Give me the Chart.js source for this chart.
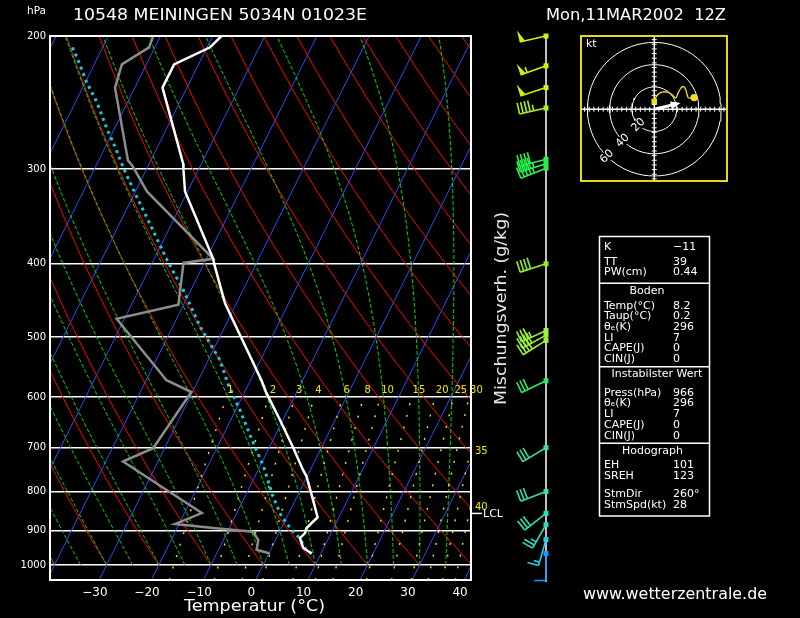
<!DOCTYPE html>
<html>
<head>
<meta charset="utf-8">
<script src="https://cdn.jsdelivr.net/npm/chart.js@4.4.1/dist/chart.umd.min.js"></script>
<style>
  html, body { margin: 0; padding: 0; background: #000; }
  #wrap { position: relative; width: 800px; height: 618px; overflow: hidden; }
  #skew { position: absolute; left: 0; top: 0; }
  #hodo { position: absolute; left: 580px; top: 35px; }
</style>
</head>
<body>
<div id="wrap">
  <canvas id="skew" width="800" height="618"></canvas>
  <canvas id="hodo" width="148" height="147"></canvas>
</div>
<script>
// Sounding 10548 Meiningen, 11 Mar 2002 12Z (pressure hPa / temperature °C)
const tempP = [200, 207, 218, 234, 295, 301, 321, 394, 402, 451, 470, 570, 593, 643, 701, 749, 764, 821, 865, 894, 908, 922, 950, 966];
const tempT = [-58.3, -59.4, -64.7, -64.7, -53.5, -52.8, -50.5, -38.7, -37.8, -32.2, -29.7, -17.9, -15.7, -10.6, -5.3, -1.4, -0.1, 3.4, 5.9, 4.8, 5.0, 4.5, 6.1, 8.2];
const dewP = [200, 207, 218, 234, 292, 297, 321, 394, 399, 453, 473, 570, 591, 701, 730, 854, 883, 894, 904, 927, 955, 966];
const dewT = [-71.4, -71.1, -74.7, -73.8, -64.4, -63.0, -57.8, -38.7, -44.0, -41.0, -51.5, -36.1, -30.2, -32.2, -36.7, -16.7, -20.8, -13.1, -5.1, -3.3, -2.7, 0.2];
// lifted surface parcel
const parcelP = [207, 216, 230, 245, 265, 280, 298, 326, 354, 395, 433, 484, 536, 576, 624, 690, 741, 808, 863, 904, 922, 950, 966];
const parcelT = [-85.8, -83.3, -79.8, -75.8, -71.5, -68.2, -64.7, -59.3, -54.2, -47.5, -41.5, -34.8, -27.8, -24.0, -19.2, -13.5, -9.3, -4.9, -1.1, 2.6, 4.5, 6.4, 8.2];
const lclP = 855;

// winds (dir deg, speed kt)
const windP = [200, 219, 234, 249, 291, 295, 299, 400, 490, 497, 505, 571, 700, 800, 855, 885, 926, 966];
const windDir = [257, 250, 252, 257, 255, 252, 248, 252, 245, 241, 238, 244, 239, 249, 232, 210, 196, 180];
const windSpd = [50, 55, 50, 45, 40, 45, 45, 40, 35, 40, 40, 30, 30, 30, 30, 25, 15, 10];
const barbColors = ['#c8f50a', '#c8f50a', '#c8f50a', '#a8f020', '#28f050', '#28f050', '#28f050', '#90ee20',
  '#a0f040', '#a0f040', '#a0f040', '#30e860', '#30e0a0', '#30e0a8', '#30e0b0', '#30dcc0', '#20d0e8', '#1e90ff'];

// hodograph (kt)
const hodoU = [0, 0.6, 3.3, 7.5, 11.7, 15.8, 19.2, 21.4, 24.2, 26.4, 28.3, 30.3, 32.5, 35.8];
const hodoV = [6.9, 9.2, 13.3, 15.5, 15.3, 13.3, 10.0, 14.7, 19.4, 20.3, 17.5, 10.5, 10.0, 10.5];
const stormU = 21, stormV = 5;
const hodoRings = [20, 40, 60];

// diagram background
const isobars = [200, 300, 400, 500, 600, 700, 800, 900, 1000];
const tempTicks = [-30, -20, -10, 0, 10, 20, 30, 40];
const mixW = [1, 2, 3, 4, 6, 8, 10, 15, 20, 25, 30, 35, 40];

const indexRows = [['K', '\u221211'], ['TT', '39'], ['PW(cm)', '0.44']];
const bodenRows = [['Temp(\u00b0C)', '8.2'], ['Taup(\u00b0C)', '0.2'], ['\u03b8\u2091(K)', '296'], ['LI', '7'], ['CAPE(J)', '0'], ['CIN(J)', '0']];
const instabRows = [['Press(hPa)', '966'], ['\u03b8\u2091(K)', '296'], ['LI', '7'], ['CAPE(J)', '0'], ['CIN(J)', '0']];
const hodoRows = [['EH', '101'], ['SREH', '123']];
const stormRows = [['StmDir', '260\u00b0'], ['StmSpd(kt)', '28']];

const P_TOP = 200, P_BOT = 1047, K_SKEW = 31.26, P_REF = 1075;

function skewX(t, p) { return t + K_SKEW * Math.log(P_REF / p); }

function mixTd(w, p) {
  const e = w * p / 622;
  const l = Math.log(e / 6.112);
  return 243.5 * l / (17.67 - l);
}

function dTdp(T, p) {
  const tc = T - 273.15;
  const es = 6.112 * Math.exp(17.67 * tc / (tc + 243.5));
  const rs = 0.622 * es / (p - es);
  const L = 2.501e6;
  return (287.04 * T + L * rs) / (p * (1005.7 + L * L * rs * 0.622 / (287.04 * T * T)));
}

function moistAdiabat(tw) {
  const out = [];
  let T = tw + 273.15;
  for (let p = 1000; p >= 200; p -= 5) {
    out.push({ x: skewX(T - 273.15, p), y: p });
    const k1 = dTdp(T, p);
    const k2 = dTdp(T - 2.5 * k1, p - 2.5);
    T -= 5 * k2;
  }
  return out;
}

const pts = (P, T) => P.map((p, i) => ({ x: skewX(T[i], p), y: p }));
const line = (data, color, width, dash) => ({
  data, borderColor: color, borderWidth: width, borderDash: dash || [],
  showLine: true, pointRadius: 0, fill: false, tension: 0
});

const datasets = [
  line(pts(tempP, tempT), '#ffffff', 2.5),
  line(pts(dewP, dewT), '#8c8c8c', 2.5),
  line(pts(parcelP, parcelT), '#18c8d8', 3, [3, 4])
];
for (const w of mixW) {
  const d = [];
  for (let p = P_BOT; p >= 600; p -= (p === P_BOT ? 7 : 20)) d.push({ x: skewX(mixTd(w, p), p), y: p });
  datasets.push(line(d, '#f0e800', 1.4, [2, 10]));
}
for (let tw = -40; tw <= 40; tw += 5) datasets.push(line(moistAdiabat(tw), '#00dd00', 1, [4, 2]));
for (let th = -40; th <= 140; th += 10) {
  const d = [];
  for (let p = 1000; p >= 200; p -= 20) d.push({ x: skewX((th + 273.15) * Math.pow(p / 1000, 0.2857) - 273.15, p), y: p });
  datasets.push(line(d, '#ff0000', 1));
}
for (let t = -130; t <= 40; t += 10) {
  datasets.push(line([{ x: skewX(t, P_BOT), y: P_BOT }, { x: skewX(t, P_TOP), y: P_TOP }], '#2f4bff', 1));
}

function fitText(ctx, txt, x, y, w, font, color) {
  ctx.save();
  ctx.font = font;
  ctx.fillStyle = color;
  ctx.textBaseline = 'middle';
  ctx.textAlign = 'left';
  const m = ctx.measureText(txt).width;
  ctx.translate(x, y);
  ctx.scale(w / m, 1);
  ctx.fillText(txt, 0, 0);
  ctx.restore();
}

function drawBarb(ctx, x, y, dir, spd, color) {
  const r = dir * Math.PI / 180;
  const sx = Math.sin(r), sy = -Math.cos(r);
  const px = -sy, py = sx;
  const L = 27, tx = x + L * sx, ty = y + L * sy;
  ctx.strokeStyle = color; ctx.fillStyle = color; ctx.lineWidth = 1.6;
  ctx.beginPath(); ctx.moveTo(x, y); ctx.lineTo(tx, ty); ctx.stroke();
  let s = spd, pos = 0;
  while (s >= 50) {
    ctx.beginPath();
    ctx.moveTo(tx - pos * sx, ty - pos * sy);
    ctx.lineTo(tx - pos * sx + 12 * px, ty - pos * sy + 12 * py);
    ctx.lineTo(tx - (pos + 5.5) * sx, ty - (pos + 5.5) * sy);
    ctx.closePath(); ctx.fill();
    pos += 7; s -= 50;
  }
  while (s >= 10) {
    ctx.beginPath();
    ctx.moveTo(tx - pos * sx, ty - pos * sy);
    ctx.lineTo(tx - pos * sx + 11.5 * px, ty - pos * sy + 11.5 * py);
    ctx.stroke();
    pos += 3.6; s -= 10;
  }
  if (s >= 5) {
    if (pos === 0) pos = 3.6;
    ctx.beginPath();
    ctx.moveTo(tx - pos * sx, ty - pos * sy);
    ctx.lineTo(tx - pos * sx + 6 * px, ty - pos * sy + 6 * py);
    ctx.stroke();
  }
  ctx.fillRect(x - 2.5, y - 2.5, 5, 5);
}

const FONT = 'DejaVu Sans';

const skewPlugin = {
  id: 'skewExtras',
  afterDraw(chart) {
    const ctx = chart.ctx, a = chart.chartArea, xs = chart.scales.x, ys = chart.scales.y;
    ctx.save();
    ctx.strokeStyle = '#fff'; ctx.lineWidth = 2;
    ctx.strokeRect(a.left, a.top, a.right - a.left, a.bottom - a.top);

    // titles
    fitText(ctx, 'hPa', 27, 11, 19, '10px ' + FONT, '#fff');
    fitText(ctx, '10548 MEININGEN 5034N 01023E', 73, 16, 294, '16px ' + FONT, '#fff');
    fitText(ctx, 'Mon,11MAR2002  12Z', 546, 16, 180, '16px ' + FONT, '#fff');
    fitText(ctx, 'Temperatur (\u00b0C)', 184, 607, 141, '16px ' + FONT, '#fff');
    fitText(ctx, 'www.wetterzentrale.de', 583, 595, 184, '15px ' + FONT, '#fff');
    ctx.save();
    ctx.translate(502, 309); ctx.rotate(-Math.PI / 2);
    fitText(ctx, 'Mischungsverh. (g/kg)', -96, 0, 193, '16px ' + FONT, '#e8e8e8');
    ctx.restore();

    // mixing ratio labels
    ctx.font = '10px ' + FONT; ctx.fillStyle = '#f0e800'; ctx.textBaseline = 'middle'; ctx.textAlign = 'left';
    const y600 = ys.getPixelForValue(600);
    for (const w of mixW) {
      const xTop = skewX(mixTd(w, 600), 600);
      if (xTop <= xs.max) {
        ctx.fillText(String(w), xs.getPixelForValue(xTop) + 1, y600 - 7);
      } else {
        let lo = 600, hi = P_BOT;
        for (let k = 0; k < 30; k++) {
          const mid = (lo + hi) / 2;
          if (skewX(mixTd(w, mid), mid) > xs.max) lo = mid; else hi = mid;
        }
        ctx.fillText(String(w), a.right + 4, ys.getPixelForValue(lo) + 3);
      }
    }

    // LCL
    const yl = ys.getPixelForValue(lclP);
    ctx.strokeStyle = '#fff'; ctx.lineWidth = 1.5;
    ctx.beginPath(); ctx.moveTo(a.right, yl); ctx.lineTo(a.right + 11, yl); ctx.stroke();
    ctx.fillStyle = '#fff'; ctx.font = '11px ' + FONT;
    ctx.fillText('LCL', a.right + 12, yl + 1);

    // wind staff and barbs
    const staffX = 546;
    ctx.strokeStyle = '#fff'; ctx.lineWidth = 1.5;
    ctx.beginPath(); ctx.moveTo(staffX, ys.getPixelForValue(P_TOP)); ctx.lineTo(staffX, ys.getPixelForValue(P_BOT) + 2); ctx.stroke();
    windP.forEach((p, i) => drawBarb(ctx, staffX, ys.getPixelForValue(p), windDir[i], windSpd[i], barbColors[i]));

    // index box
    const bx = 599.5, bw = 110;
    ctx.strokeStyle = '#fff'; ctx.lineWidth = 1.5;
    ctx.strokeRect(bx, 236.5, bw, 279.5);
    ctx.beginPath();
    for (const yy of [283.3, 366.7, 443.3]) { ctx.moveTo(bx, yy); ctx.lineTo(bx + bw, yy); }
    ctx.stroke();
    ctx.font = '11px ' + FONT; ctx.fillStyle = '#fff'; ctx.textAlign = 'left';
    const rows = (list, y0, dy) => list.forEach((r, i) => {
      ctx.fillText(r[0], 604, y0 + i * dy);
      ctx.fillText(r[1], 673, y0 + i * dy);
    });
    rows(indexRows.slice(0, 1), 246.7, 0);
    rows(indexRows.slice(1), 261.7, 10.6);
    rows(bodenRows, 305.7, 10.7);
    rows(instabRows, 392.7, 10.75);
    rows(hodoRows, 465, 11);
    rows(stormRows, 494.3, 10.7);
    ctx.textAlign = 'center';
    ctx.fillText('Boden', 647, 291);
    ctx.fillText('Instabilster Wert', 657, 374.3);
    ctx.fillText('Hodograph', 652.5, 451);
    ctx.restore();
  }
};

Chart.defaults.font.family = FONT;
Chart.defaults.color = '#fff';

new Chart(document.getElementById('skew'), {
  type: 'scatter',
  data: { datasets },
  options: {
    responsive: false,
    animation: false,
    devicePixelRatio: 1,
    layout: { padding: { left: 0, top: 36, right: 329, bottom: 0 } },
    plugins: { legend: { display: false }, tooltip: { enabled: false } },
    scales: {
      x: {
        type: 'linear', min: -38.6, max: 42.1,
        afterBuildTicks: s => { s.ticks = tempTicks.map(v => ({ value: v })); },
        afterFit: s => { s.height = 38; },
        grid: { display: false },
        border: { display: false },
        ticks: { color: '#fff', font: { size: 12 }, padding: -2, maxRotation: 0,
          callback: v => (v < 0 ? '\u2212' + (-v) : String(v)) }
      },
      y: {
        type: 'logarithmic', min: P_TOP, max: P_BOT, reverse: true,
        afterBuildTicks: s => { s.ticks = isobars.map(v => ({ value: v })); },
        afterFit: s => { s.width = 50; },
        grid: { color: c => (c.tick && c.tick.value === P_TOP ? 'rgba(0,0,0,0)' : '#ffffff'), lineWidth: 1.5, drawTicks: false },
        border: { display: false },
        ticks: { color: '#fff', font: { size: 10 }, padding: 4, callback: v => String(v) }
      }
    }
  },
  plugins: [skewPlugin]
});

// hodograph
const ringData = r => {
  const d = [];
  for (let a = 0; a <= 360; a += 5) d.push({ x: r * Math.cos(a * Math.PI / 180), y: r * Math.sin(a * Math.PI / 180) });
  return d;
};
const hodoSets = [
  { data: [{ x: 0, y: 0 }, { x: stormU, y: stormV }], borderColor: '#fff', borderWidth: 3, showLine: true, pointRadius: 0 },
  { data: hodoU.map((u, i) => ({ x: u, y: hodoV[i] })), borderColor: '#f0e020', backgroundColor: '#f0e020', borderWidth: 1.3,
    showLine: true, tension: 0.3,
    pointRadius: c => (c.dataIndex === 0 || c.dataIndex === hodoU.length - 1 ? 3 : 0),
    pointStyle: c => (c.dataIndex === 0 ? 'rect' : 'circle') }
];
hodoRings.forEach(r => hodoSets.push({ data: ringData(r), borderColor: '#fff', borderWidth: 1, showLine: true, pointRadius: 0 }));

const hodoPlugin = {
  id: 'hodoExtras',
  beforeDatasetsDraw(chart) {
    const ctx = chart.ctx, xs = chart.scales.x, ys = chart.scales.y;
    const cx = xs.getPixelForValue(0), cy = ys.getPixelForValue(0);
    ctx.save();
    ctx.strokeStyle = '#fff'; ctx.lineWidth = 1.5;
    ctx.beginPath();
    ctx.moveTo(0, cy); ctx.lineTo(chart.width, cy);
    ctx.moveTo(cx, 0); ctx.lineTo(cx, chart.height);
    ctx.stroke();
    ctx.lineWidth = 1;
    ctx.beginPath();
    const step = 60 / 14.4;
    for (let k = -15; k <= 15; k++) {
      if (!k) continue;
      const px = xs.getPixelForValue(k * step), py = ys.getPixelForValue(k * step);
      ctx.moveTo(px, cy - 2.5); ctx.lineTo(px, cy + 2.5);
      ctx.moveTo(cx - 2.5, py); ctx.lineTo(cx + 2.5, py);
    }
    ctx.stroke();
    ctx.restore();
  },
  afterDraw(chart) {
    const ctx = chart.ctx, xs = chart.scales.x, ys = chart.scales.y;
    ctx.save();
    // storm motion arrow head
    const hx = xs.getPixelForValue(stormU), hy = ys.getPixelForValue(stormV);
    const ang = Math.atan2(hy - ys.getPixelForValue(0), hx - xs.getPixelForValue(0));
    ctx.fillStyle = '#fff';
    ctx.beginPath();
    ctx.moveTo(hx + 3 * Math.cos(ang), hy + 3 * Math.sin(ang));
    ctx.lineTo(hx - 7 * Math.cos(ang) - 4 * Math.sin(ang), hy - 7 * Math.sin(ang) + 4 * Math.cos(ang));
    ctx.lineTo(hx - 7 * Math.cos(ang) + 4 * Math.sin(ang), hy - 7 * Math.sin(ang) - 4 * Math.cos(ang));
    ctx.closePath(); ctx.fill();
    // ring labels
    ctx.font = '11px ' + FONT; ctx.textAlign = 'center'; ctx.textBaseline = 'middle';
    hodoRings.forEach(r => {
      const d = r * Math.SQRT1_2;
      ctx.save();
      ctx.translate(xs.getPixelForValue(-d), ys.getPixelForValue(-d));
      ctx.rotate(-Math.PI / 4);
      ctx.fillStyle = '#000';
      ctx.fillRect(-7, -5, 14, 10);
      ctx.fillStyle = '#fff';
      ctx.fillText(String(r), 0, 0);
      ctx.restore();
    });
    ctx.textAlign = 'left';
    ctx.fillText('kt', 6, 9);
    // frame
    ctx.strokeStyle = '#e8d81c'; ctx.lineWidth = 2;
    ctx.strokeRect(1, 1, chart.width - 2, chart.height - 2);
    ctx.restore();
  }
};

new Chart(document.getElementById('hodo'), {
  type: 'scatter',
  data: { datasets: hodoSets },
  options: {
    responsive: false,
    animation: false,
    devicePixelRatio: 1,
    layout: { padding: 0 },
    plugins: { legend: { display: false }, tooltip: { enabled: false } },
    scales: {
      x: { type: 'linear', min: -61.9, max: 61.4, display: false },
      y: { type: 'linear', min: -60.6, max: 61.9, display: false }
    }
  },
  plugins: [hodoPlugin]
});
</script>
</body>
</html>
